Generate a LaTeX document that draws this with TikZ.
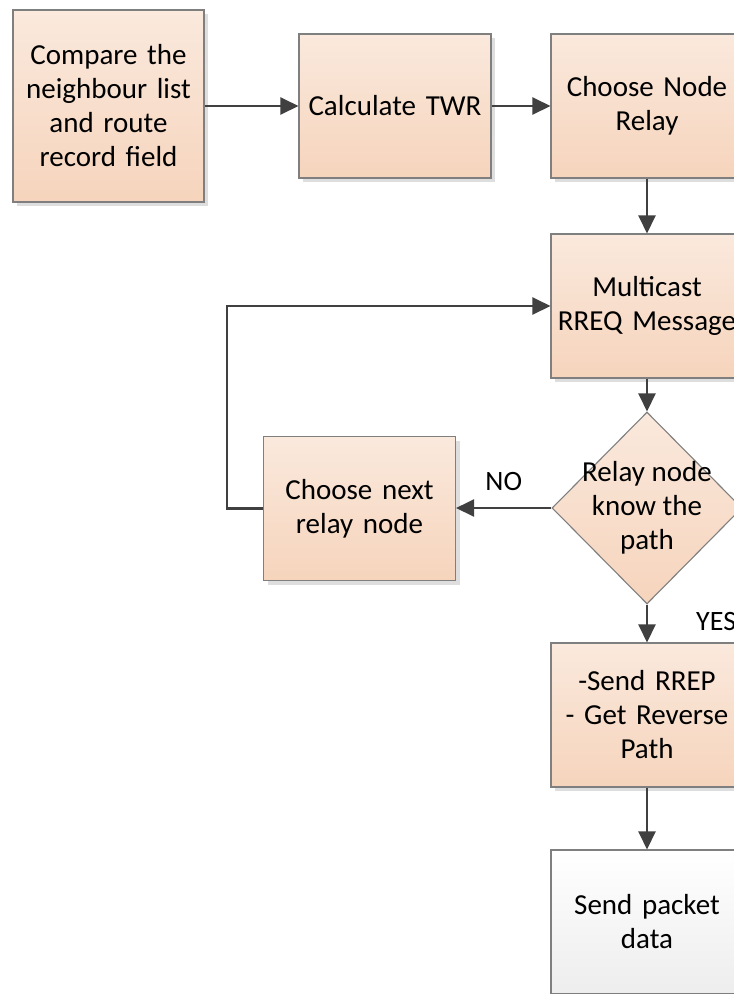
\documentclass[tikz,border=0pt]{standalone}
\usepackage{fontspec}
\setmainfont{Carlito}
\usetikzlibrary{shapes.geometric,arrows.meta,shadows}
\definecolor{peachtop}{HTML}{FAE9DD}
\definecolor{peachbot}{HTML}{F6D4BC}
\definecolor{edgegray}{HTML}{7F7F7F}
\definecolor{linkgray}{HTML}{404040}
\tikzset{
  boxbase/.style={draw=edgegray, line width=1.1pt, minimum width=192pt, minimum height=144pt,
    text width=184pt, align=center, inner sep=0pt,
    font=\fontsize{29}{34}\selectfont,
    drop shadow={shadow xshift=4pt, shadow yshift=-4pt, fill=black!13, opacity=1}},
  stepbox/.style={boxbase, top color=peachtop, bottom color=peachbot},
  endbox/.style={boxbase, top color=white, bottom color=black!7},
  decision/.style={diamond, draw=edgegray, line width=1.1pt, top color=peachtop, bottom color=peachbot,
    minimum width=190pt, minimum height=192pt, inner sep=0pt},
  plaintext/.style={align=center, inner sep=0pt, font=\fontsize{29}{34}\selectfont},
  link/.style={draw=linkgray, line width=2.4pt, -{Triangle[length=18pt,width=17pt]}},
  tag/.style={font=\fontsize{28}{34}\selectfont, inner sep=0pt}
}
\begin{document}
\begin{tikzpicture}[x=1pt,y=-1pt]
\useasboundingbox (0,0) rectangle (734,994);
\clip (0,0) rectangle (734,994);
\fill[white] (0,0) rectangle (734,994);

\node[stepbox, minimum width=191pt, minimum height=192pt] (cmp) at (108.5,106) {Compare the\\neighbour list\\and route\\record field};
\node[stepbox] (twr) at (395,106) {Calculate TWR};
\node[stepbox] (relay) at (647,106) {Choose Node\\Relay};
\node[stepbox] (mcast) at (647,306) {Multicast\\RREQ Message};
\node[decision] (know) at (647,508) {};
\node[plaintext] (knowtext) at (know.center) {Relay node\\know the\\path};
\node[stepbox] (next) at (359.5,508.5) {Choose next\\relay node};
\node[stepbox] (rrep) at (647,715) {-Send RREP\\- Get Reverse\\Path};
\node[endbox] (send) at (647,922) {Send packet\\data};

\coordinate (loopcorner) at (227,508.5);

\draw[link] (cmp.east |- twr.west) -- (twr.west);
\draw[link] (twr) -- (relay);
\draw[link] (relay) -- (mcast);
\draw[link] (mcast) -- (know);
\draw[link] (know.west) -- (next.east |- know.west) node[tag, midway, above=16pt] (no) {NO};
\draw[link] (next.west) -- (loopcorner) |- (mcast.west);
\draw[link] (know.south) -- (rrep.north);
\draw[link] (rrep) -- (send);
\node[tag, anchor=west] (yes) at (696,622) {YES};
\end{tikzpicture}
\end{document}
